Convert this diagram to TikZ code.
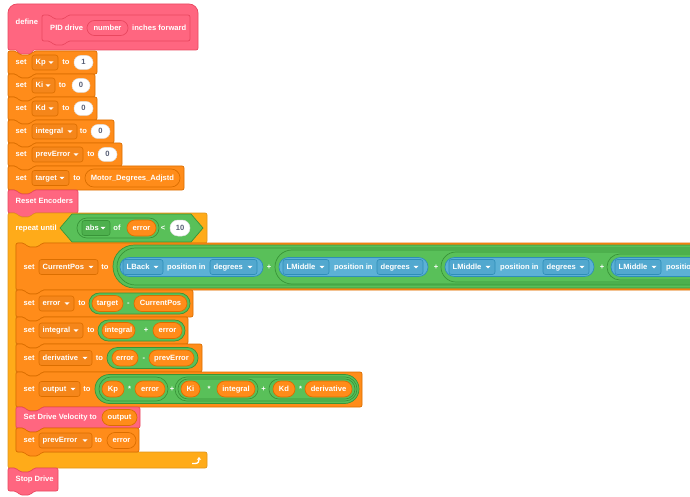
\documentclass[tikz,border=0pt]{standalone}
\usepackage{fontspec}
\setmainfont{Liberation Sans}
\usetikzlibrary{arrows.meta}
\definecolor{pk}{HTML}{FF6680}
\definecolor{pkd}{HTML}{E9475F}
\definecolor{orf}{HTML}{FF8C1A}
\definecolor{ord}{HTML}{DB6E00}
\definecolor{ordd}{HTML}{F5861A}
\definecolor{ctl}{HTML}{FFAB19}
\definecolor{ctld}{HTML}{E0951A}
\definecolor{grf}{HTML}{59C059}
\definecolor{grd}{HTML}{389438}
\definecolor{grdd}{HTML}{4DB04D}
\definecolor{blf}{HTML}{5CB1D6}
\definecolor{bld}{HTML}{2E8EB8}
\definecolor{bldd}{HTML}{52A8CF}
\definecolor{txg}{HTML}{575E75}
\tikzset{
 lab/.style={font=\bfseries\fontsize{7.6}{9}\selectfont,text=white,inner sep=0pt,text height=5.6pt,text depth=1.4pt},
 glab/.style={lab,text=txg},
 vblk/.style={fill=orf,draw=ord,line width=0.7pt},
 cblk/.style={fill=ctl,draw=ctld,line width=0.7pt},
 pblk/.style={fill=pk,draw=pkd,line width=0.7pt},
 gpl/.style={fill=grf,draw=grd,line width=0.7pt},
 opl/.style={fill=orf,draw=ord,line width=0.7pt},
 wpl/.style={fill=white,draw=black!12,line width=0.5pt},
 bpl/.style={fill=blf,draw=bld,line width=0.7pt},
 ppl/.style={fill=pk,draw=pkd,line width=0.7pt},
 odd/.style={fill=ordd,draw=ord,line width=0.6pt,rounded corners=2.5pt},
 gdd/.style={fill=grdd,draw=grd,line width=0.6pt,rounded corners=2.5pt},
 bdd/.style={fill=bldd,draw=bld,line width=0.6pt,rounded corners=2.5pt},
}
\newcommand{\stk}[5]{\draw[#1,rounded corners=2pt] (#2,#3) -- ({#2+8},#3) -- ({#2+12},{#3+4}) -- ({#2+22},{#3+4}) -- ({#2+26},#3) -- (#4,#3) -- (#4,#5) -- ({#2+26},#5) -- ({#2+22},{#5+4}) -- ({#2+12},{#5+4}) -- ({#2+8},#5) -- (#2,#5) -- cycle;}
\newcommand{\pil}[5]{\pgfmathsetmacro\pilr{#5-0.1}\draw[#1,rounded corners=\pilr pt] (#2,{#4-#5}) rectangle (#3,{#4+#5});}
\newcommand{\ddn}[6]{\draw[#1dd] (#3,{#5-7.5}) rectangle (#4,{#5+7.5});
 \node[lab,anchor=west] (#2) at ({#3+3.5},#5) {#6};
 \fill[white] ({#4-9.5},{#5-1.2}) -- ({#4-4.5},{#5-1.2}) -- ({#4-7},{#5+1.5}) -- cycle;}
\begin{document}
\begin{tikzpicture}[x=1pt,y=-1pt]
\useasboundingbox (0,0) rectangle (690,497);
\fill[white] (0,0) rectangle (690,497);
\clip (0,0) rectangle (690,497);
% define hat
\draw[pblk] (8,48) -- (8,13) arc[start angle=180,end angle=270,radius=9] -- (189,4) arc[start angle=270,end angle=360,radius=9] -- (198,48) arc[start angle=0,end angle=90,radius=2] -- (34,50) -- (30,54) -- (20,54) -- (16,50) -- (10,50) arc[start angle=90,end angle=180,radius=2] -- cycle;
\stk{ppl}{42}{15}{190}{41}
\node[lab,anchor=west] (tDef) at (15.5,22) {define};
\node[lab,anchor=west] (tPid) at (50,28) {PID drive};
\pil{ppl}{87}{128}{28}{7.5}
\node[lab] (tNum) at (107.5,28) {number};
\node[lab,anchor=west] (tInch) at (132,28) {inches forward};
% top set blocks
\stk{vblk}{8}{51}{97}{74}
\node[lab,anchor=west] (s1) at (15.5,62.5) {set};
\ddn{o}{d1}{32}{58}{62.5}{Kp}
\node[lab] (to1) at (66,62.5) {to};
\pil{wpl}{74}{93}{62.5}{7}
\node[glab] (v1) at (83.5,62.5) {1};
\stk{vblk}{8}{74}{95}{97}
\node[lab,anchor=west] (s2) at (15.5,85.5) {set};
\ddn{o}{d2}{32}{55}{85.5}{Ki}
\node[lab] (to2) at (62.5,85.5) {to};
\pil{wpl}{72}{90}{85.5}{7}
\node[glab] (v2) at (81,85.5) {0};
\stk{vblk}{8}{97}{97}{120}
\node[lab,anchor=west] (s3) at (15.5,108.5) {set};
\ddn{o}{d3}{32}{58}{108.5}{Kd}
\node[lab] (to3) at (66,108.5) {to};
\pil{wpl}{74}{93}{108.5}{7}
\node[glab] (v3) at (83.5,108.5) {0};
\stk{vblk}{8}{120}{114}{143}
\node[lab,anchor=west] (s4) at (15.5,131.5) {set};
\ddn{o}{d4}{32}{77}{131.5}{integral}
\node[lab] (to4) at (83.5,131.5) {to};
\pil{wpl}{91}{110}{131.5}{7}
\node[glab] (v4) at (100.5,131.5) {0};
\stk{vblk}{8}{143}{122}{166}
\node[lab,anchor=west] (s5) at (15.5,154.5) {set};
\ddn{o}{d5}{32}{83}{154.5}{prevError}
\node[lab] (to5) at (91,154.5) {to};
\pil{wpl}{98}{117}{154.5}{7}
\node[glab] (v5) at (107.5,154.5) {0};
\stk{vblk}{8}{166}{184}{190}
\node[lab,anchor=west] (s6) at (15.5,178) {set};
\ddn{o}{d6}{32}{69}{178}{target}
\node[lab] (to6) at (77,178) {to};
\pil{opl}{85}{180}{178}{9}
\node[lab] (v6) at (132.5,178) {Motor\_Degrees\_Adjstd};
\stk{pblk}{8}{190}{78}{213}
\node[lab,anchor=west] (tReset) at (15.5,201.5) {Reset Encoders};
% repeat until C block
\draw[cblk,rounded corners=2pt] (8,213) -- (16,213) -- (20,217) -- (30,217) -- (34,213) -- (207,213) -- (207,243) -- (42,243) -- (38,247) -- (28,247) -- (24,243) -- (16,243) -- (16,452) -- (207,452) -- (207,468) -- (34,468) -- (30,472) -- (20,472) -- (16,468) -- (8,468) -- cycle;
\node[lab,anchor=west] (tRep) at (15.5,228) {repeat until};
\draw[gpl] (60,228) -- (72,214) -- (191,214) -- (203,228) -- (191,242) -- (72,242) -- cycle;
\pil{gpl}{77}{159}{228}{10}
\ddn{g}{dAbs}{82}{110}{228}{abs}
\node[lab] (tOf) at (117,228) {of};
\pil{opl}{127}{156}{228}{8}
\node[lab] (vErr0) at (141.5,228) {error};
\node[lab] (tLt) at (163,228) {<};
\pil{wpl}{170}{190}{228}{8}
\node[glab] (v10) at (180,228) {10};
\draw[white,line width=1.3pt,-{Triangle[length=2.6pt,width=4pt]}] (192,463.5) -- (195,463.5) .. controls (198.5,463.5) and (199,461) .. (199,457);
% set CurrentPos
\stk{vblk}{16}{243}{760}{290}
\node[lab,anchor=west] (s7) at (23.5,267) {set};
\ddn{o}{d7}{39}{98}{267}{CurrentPos}
\node[lab] (to7) at (105,267) {to};
\pil{gpl}{113}{760}{266.5}{21.5}
\pil{gpl}{117}{760}{266.5}{18.5}
\pil{bpl}{120}{263}{267}{9.5}
\ddn{b}{dB1}{123}{163}{267}{LBack}
\node[lab,anchor=west] (tP1) at (167,267) {position in};
\ddn{b}{dU1}{210}{257}{267}{degrees}
\node[lab] (pl1) at (269,267) {+};
\pil{gpl}{275}{760}{267}{17}
\pil{bpl}{279}{428}{267}{9.5}
\ddn{b}{dB2}{283}{329}{267}{LMiddle}
\node[lab,anchor=west] (tP2) at (334,267) {position in};
\ddn{b}{dU2}{377}{423}{267}{degrees}
\node[lab] (pl2) at (436,267) {+};
\pil{gpl}{441}{760}{267}{15}
\pil{bpl}{445}{594}{267}{9.5}
\ddn{b}{dB3}{449}{495}{267}{LMiddle}
\node[lab,anchor=west] (tP3) at (500,267) {position in};
\ddn{b}{dU3}{543}{589}{267}{degrees}
\node[lab] (pl3) at (602,267) {+};
\pil{gpl}{607}{760}{267}{13}
\pil{bpl}{611}{760}{267}{9.5}
\ddn{b}{dB4}{615}{661}{267}{LMiddle}
\node[lab,anchor=west] (tP4) at (666,267) {position in};
% set error
\stk{vblk}{16}{290}{193}{317}
\node[lab,anchor=west] (s8) at (23.5,303.5) {set};
\ddn{o}{d8}{39}{74}{303.5}{error}
\node[lab] (to8) at (82,303.5) {to};
\pil{gpl}{89}{190}{303.5}{10.5}
\pil{opl}{92}{123}{303.5}{8}
\node[lab] (v8a) at (107.5,303.5) {target};
\node[lab] (m8) at (128.5,303.5) {-};
\pil{opl}{134}{187}{303.5}{8}
\node[lab] (v8b) at (160.5,303.5) {CurrentPos};
% set integral
\stk{vblk}{16}{317}{188}{344}
\node[lab,anchor=west] (s9) at (23.5,330.5) {set};
\ddn{o}{d9}{39}{83}{330.5}{integral}
\node[lab] (to9) at (91,330.5) {to};
\pil{gpl}{98}{185}{330.5}{10.5}
\pil{opl}{102}{135}{330.5}{8}
\node[lab] (v9a) at (118.5,330.5) {integral};
\node[lab] (m9) at (146,330.5) {+};
\pil{opl}{153}{182}{330.5}{8}
\node[lab] (v9b) at (167.5,330.5) {error};
% set derivative
\stk{vblk}{16}{344}{202}{372}
\node[lab,anchor=west] (s10) at (23.5,358) {set};
\ddn{o}{d10}{39}{92}{358}{derivative}
\node[lab] (to10) at (99.5,358) {to};
\pil{gpl}{107}{198}{358}{10.5}
\pil{opl}{112}{138}{358}{8}
\node[lab] (v10a) at (125,358) {error};
\node[lab] (m10) at (144,358) {-};
\pil{opl}{149}{194}{358}{8}
\node[lab] (v10b) at (171.5,358) {prevError};
% set output
\stk{vblk}{16}{372}{362}{407}
\node[lab,anchor=west] (s11) at (23.5,389) {set};
\ddn{o}{d11}{39}{80}{389}{output}
\node[lab] (to11) at (87,389) {to};
\pil{gpl}{95}{359}{389}{14.5}
\pil{gpl}{99}{168}{389}{12}
\pil{opl}{102}{124}{389}{8}
\node[lab] (kp) at (113,389) {Kp};
\node[lab] (x1) at (129.5,389) {*};
\pil{opl}{135}{165}{389}{8}
\node[lab] (e11) at (150,389) {error};
\node[lab] (p11) at (172,389) {+};
\pil{gpl}{175}{357}{389}{12}
\pil{gpl}{178}{258}{389}{10}
\pil{opl}{181}{200}{389}{8}
\node[lab] (ki) at (190.5,389) {Ki};
\node[lab] (x2) at (209,389) {*};
\pil{opl}{217}{255}{389}{8}
\node[lab] (i11) at (236,389) {integral};
\node[lab] (p12) at (263.5,389) {+};
\pil{gpl}{269}{355}{389}{10}
\pil{opl}{273}{295}{389}{8}
\node[lab] (kd) at (284,389) {Kd};
\node[lab] (x3) at (300.5,389) {*};
\pil{opl}{305}{352}{389}{8}
\node[lab] (dv) at (328.5,389) {derivative};
% Set Drive Velocity
\stk{pblk}{16}{407}{140}{428}
\node[lab,anchor=west] (tSDV) at (23.5,417.5) {Set Drive Velocity to};
\pil{opl}{102}{137}{417.5}{8}
\node[lab] (vOut) at (119.5,417.5) {output};
% set prevError
\stk{vblk}{16}{428}{139}{452}
\node[lab,anchor=west] (s12) at (23.5,440.5) {set};
\ddn{o}{d12}{39}{92}{440.5}{prevError}
\node[lab] (to12) at (98.5,440.5) {to};
\pil{opl}{107}{136}{440.5}{8}
\node[lab] (v12) at (121.5,440.5) {error};
% Stop Drive
\stk{pblk}{8}{468}{58}{491}
\node[lab,anchor=west] (tStop) at (15.5,479.5) {Stop Drive};
\end{tikzpicture}
\end{document}
